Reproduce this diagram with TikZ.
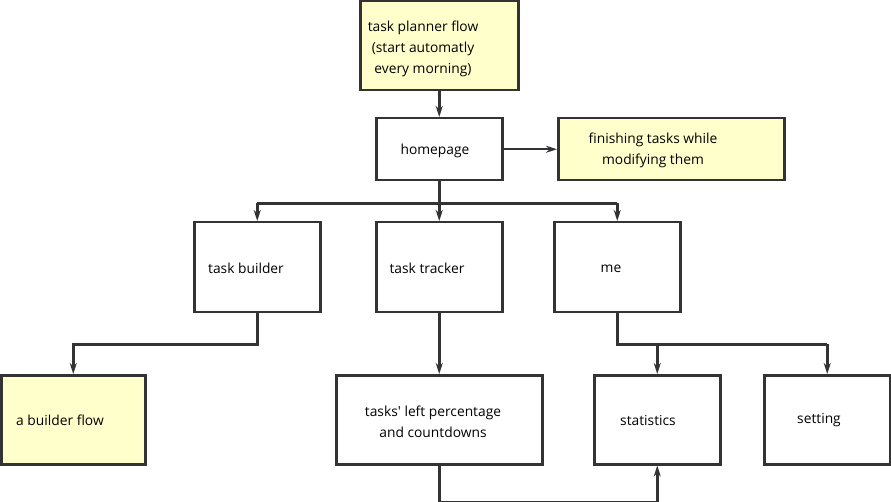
\documentclass[tikz,border=0pt]{standalone}
\usepackage{fontspec}
\setmainfont{Open Sans}
\usetikzlibrary{arrows.meta}
\definecolor{ln}{HTML}{333333}
\definecolor{yel}{HTML}{FFFFCC}
\begin{document}
\begin{tikzpicture}[x=1pt,y=-1pt,
  box/.style={draw=ln,line width=2.5pt,fill=white,minimum width=#1,inner sep=0pt,anchor=north west},
  ybox/.style={box=#1,fill=yel},
  txt/.style={font=\fontsize{13.8}{21}\selectfont,align=center,text=black},
  conn/.style={draw=ln,line width=2.5pt,-{Stealth[length=11pt,width=7pt]}},
  plain/.style={draw=ln,line width=2.5pt}]
\useasboundingbox (0,0) rectangle (891,502);
% boxes
\node[ybox=158pt,minimum height=89pt] (plan) at (359,0) {};
\node[box=126pt,minimum height=62pt] (home) at (375,117) {};
\node[ybox=226pt,minimum height=62pt] (fin) at (557,117) {};
\node[box=126pt,minimum height=90pt] (build) at (193,221) {};
\node[box=126pt,minimum height=90pt] (track) at (375,221) {};
\node[box=126pt,minimum height=90pt] (me) at (553,221) {};
\node[ybox=144pt,minimum height=89pt] (bflow) at (0,374) {};
\node[box=206pt,minimum height=89pt] (left) at (335,374) {};
\node[box=126pt,minimum height=89pt] (stat) at (593,374) {};
\node[box=126pt,minimum height=89pt] (set) at (763,374) {};
% texts
\node[txt] (tplan) at (423,48.5) {task planner flow\\(start automatly\\every morning)};
\node[txt] (thome) at (435,150.5) {homepage};
\node[txt] (tfin) at (653,150.5) {finishing tasks while\\modifying them};
\node[txt] (tbuild) at (246,268.5) {task builder};
\node[txt] (ttrack) at (427,268.5) {task tracker};
\node[txt] (tme) at (611,268.5) {me};
\node[txt] (tbflow) at (60,420.5) {a builder flow};
\node[txt] (tleft) at (433,421.5) {tasks\textquotesingle{} left percentage\\and countdowns};
\node[txt] (tstat) at (648,420.5) {statistics};
\node[txt] (tset) at (819,420.5) {setting};
% connectors
\draw[conn] (plan.south) -- (home.north);
\draw[conn] (home.east) -- (fin.west);
\draw[plain] (home.south) -- ++(0,22) coordinate (hj);
\draw[plain] (hj -| build.north) -- (hj -| me.north);
\draw[conn] (hj -| build.north) -- (build.north);
\draw[conn] (hj) -- (track.north);
\draw[conn] (hj -| me.north) -- (me.north);
\draw[conn] (build.south) -- ++(0,31) -| (bflow.north);
\draw[conn] (track.south) -- (left.north);
\draw[plain] (me.south) -- ++(0,31) coordinate (mj) -- (mj -| set.north);
\draw[conn] (mj -| stat.north) -- (stat.north);
\draw[conn] (mj -| set.north) -- (set.north);
\draw[conn] (left.south) -- ++(0,37) -| (stat.south);
\end{tikzpicture}
\end{document}
